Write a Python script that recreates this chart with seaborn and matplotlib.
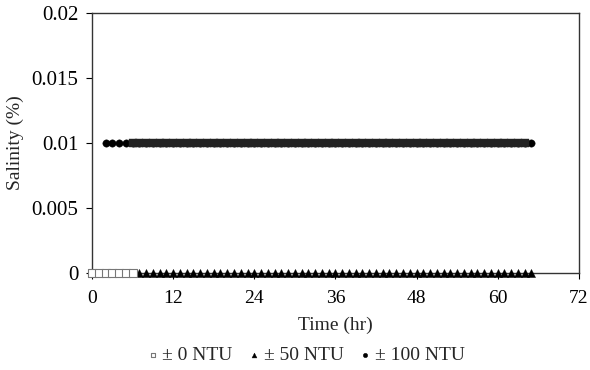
import numpy as np
import pandas as pd
import matplotlib
matplotlib.use("Agg")
import matplotlib.pyplot as plt
import seaborn as sns

# Data
hours_0ntu = [0, 1, 2, 3, 4, 5, 6]
sal_0ntu = [0, 0, 0, 0, 0, 0, 0]

hours_50ntu = list(range(0, 66))
sal_50ntu = [0.0] * len(hours_50ntu)

hours_100ntu = list(range(2, 66))
sal_100ntu = [0.01] * len(hours_100ntu)

hours_overlap = list(range(6, 65))
sal_overlap = [0.01] * len(hours_overlap)

x_ticks = [0, 12, 24, 36, 48, 60, 72]
y_ticks = [0, 0.005, 0.01, 0.015, 0.02]
y_labels = ["0", "0.005", "0.01", "0.015", "0.02"]

sns.set_theme(style="white")
plt.rcParams['font.family'] = ['Liberation Serif', 'DejaVu Serif']

FS = 14

fig = plt.figure(figsize=(5.9, 3.7), dpi=100)
ax = fig.add_axes([0.156, 0.262, 0.825, 0.703])

df50 = pd.DataFrame({"t": hours_50ntu, "s": sal_50ntu})
df100 = pd.DataFrame({"t": hours_100ntu, "s": sal_100ntu})
df0 = pd.DataFrame({"t": hours_0ntu, "s": sal_0ntu})
dfo = pd.DataFrame({"t": hours_overlap, "s": sal_overlap})

sns.scatterplot(data=df50, x="t", y="s", ax=ax, marker="^", s=34, color="black",
                edgecolor="black", linewidth=0.3, label="± 50 NTU", zorder=3, clip_on=False)
sns.scatterplot(data=df100, x="t", y="s", ax=ax, marker="o", s=28, color="black",
                edgecolor="black", linewidth=0.3, label="± 100 NTU", zorder=3, clip_on=False)
sns.scatterplot(data=dfo, x="t", y="s", ax=ax, marker="s", s=28, color="#222222",
                edgecolor="#222222", linewidth=0.3, legend=False, zorder=4, clip_on=False)
sns.scatterplot(data=df0, x="t", y="s", ax=ax, marker="s", s=28, color="white",
                edgecolor="#777777", linewidth=0.8, label="± 0 NTU", zorder=4, clip_on=False)

ax.set_xlim(0, 72)
ax.set_ylim(0, 0.02)
ax.set_xticks(x_ticks)
ax.set_yticks(y_ticks)
ax.set_yticklabels(y_labels)
ax.set_xlabel("Time (hr)", fontsize=FS, labelpad=7)
ax.set_ylabel("Salinity (%)", fontsize=FS, labelpad=5)
ax.tick_params(axis="x", labelsize=FS, direction="out", length=4, width=0.8,
               colors="black", bottom=True, pad=8)
ax.tick_params(axis="y", labelsize=15, direction="out", length=4, width=0.8,
               colors="black", left=True, pad=6)
for sp in ax.spines.values():
    sp.set_visible(True)
    sp.set_color("#333333")
    sp.set_linewidth(1.0)
ax.grid(False)

handles, labels = ax.get_legend_handles_labels()
order = [labels.index("± 0 NTU"), labels.index("± 50 NTU"), labels.index("± 100 NTU")]
leg = ax.legend([handles[i] for i in order], [labels[i] for i in order],
                loc="upper center", bbox_to_anchor=(0.435, -0.215), ncol=3, frameon=False,
                fontsize=FS, handletextpad=0.0, columnspacing=0.6, markerscale=0.6,
                handlelength=1.0)

fig.savefig("out.png", dpi=100)
